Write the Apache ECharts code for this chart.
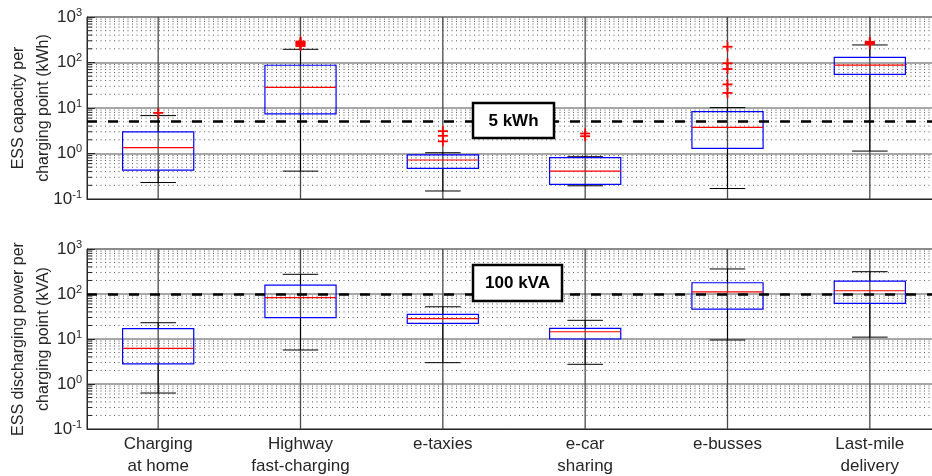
<!DOCTYPE html>
<html>
<head>
<meta charset="utf-8">
<script src="https://cdn.jsdelivr.net/npm/echarts@6/dist/echarts.min.js"></script>
<style>
  html, body { margin: 0; padding: 0; background: #fff; }
  #chart { width: 932px; height: 476px; }
</style>
</head>
<body>
<div id="chart"></div>
<script>
const categories = ['Charging\nat home', 'Highway\nfast-charging', 'e-taxies', 'e-car\nsharing', 'e-busses', 'Last-mile\ndelivery']

// ESS capacity (kWh): lower whisker, q1, median, q3, upper whisker
const capLow = [0.23, 0.41, 0.15, 0.195, 0.17, 1.13]
const capQ1 = [0.43, 7.4, 0.47, 0.21, 1.3, 55]
const capMed = [1.34, 28.5, 0.72, 0.41, 3.76, 88]
const capQ3 = [3.0, 87, 0.93, 0.81, 8.3, 130]
const capHigh = [6.8, 195, 1.04, 0.85, 10.2, 243]
const capOutliers = [
  [0, 7.8],
  [1, 230], [1, 245], [1, 260], [1, 275], [1, 290],
  [2, 3.1], [2, 2.45], [2, 1.85],
  [3, 2.75], [3, 2.4],
  [4, 222], [4, 96], [4, 72], [4, 33], [4, 21.5],
  [5, 255], [5, 265], [5, 275], [5, 285]
]

// ESS discharging power (kVA)
const powLow = [0.63, 5.7, 2.98, 2.74, 9.5, 11]
const powQ1 = [2.8, 30, 22.3, 10, 46, 62]
const powMed = [6.2, 83, 28.3, 14.5, 111, 118]
const powQ3 = [17, 158, 35.4, 17.3, 178, 194]
const powHigh = [23, 274, 52, 26, 360, 313]
const powOutliers = []

const capLimit = 5
const powLimit = 100

const decades = [0.1, 1, 10, 100]
const minorSteps = [2, 3, 4, 5, 6, 7, 8, 9]

const FONT = 'Liberation Sans, Arial, Helvetica, sans-serif'
const TXT = '#262626'

const minorVals = []
decades.forEach(d => minorSteps.forEach(m => minorVals.push([0, +(d * m).toPrecision(3)])))

function boxRows (lo, q1, md, q3, hi) {
  return categories.map((c, i) => [i, lo[i], q1[i], md[i], q3[i], hi[i]])
}

function renderBox (params, api) {
  const x = api.value(0)
  const band = params.coordSys.width / categories.length
  const lo = api.coord([x, api.value(1)])
  const q1 = api.coord([x, api.value(2)])
  const md = api.coord([x, api.value(3)])
  const q3 = api.coord([x, api.value(4)])
  const hi = api.coord([x, api.value(5)])
  const cx = lo[0]
  const bw = band * 0.5
  const cw = band * 0.25
  const black = { stroke: '#000', lineWidth: 1 }
  return {
    type: 'group',
    children: [
      { type: 'line', shape: { x1: cx, y1: lo[1], x2: cx, y2: q1[1] }, style: black },
      { type: 'line', shape: { x1: cx, y1: q3[1], x2: cx, y2: hi[1] }, style: black },
      { type: 'line', shape: { x1: cx - cw / 2, y1: lo[1], x2: cx + cw / 2, y2: lo[1] }, style: black },
      { type: 'line', shape: { x1: cx - cw / 2, y1: hi[1], x2: cx + cw / 2, y2: hi[1] }, style: black },
      {
        type: 'rect',
        shape: { x: cx - bw / 2, y: q3[1], width: bw, height: q1[1] - q3[1] },
        style: { fill: 'none', stroke: '#0000ff', lineWidth: 1.2 }
      },
      { type: 'line', shape: { x1: cx - bw / 2, y1: md[1], x2: cx + bw / 2, y2: md[1] }, style: { stroke: '#ff0000', lineWidth: 1.2 } }
    ]
  }
}

function renderOutlier (params, api) {
  const p = api.coord([api.value(0), api.value(1)])
  const s = 5
  const st = { stroke: '#ff0000', lineWidth: 1.8 }
  return {
    type: 'group',
    children: [
      { type: 'line', shape: { x1: p[0] - s, y1: p[1], x2: p[0] + s, y2: p[1] }, style: st },
      { type: 'line', shape: { x1: p[0], y1: p[1] - s, x2: p[0], y2: p[1] + s }, style: st }
    ]
  }
}

// dotted minor grid line + small inward tick on the left edge
function renderMinor (params, api) {
  const cs = params.coordSys
  const y = api.coord([0, api.value(1)])[1]
  return {
    type: 'group',
    children: [
      { type: 'line', shape: { x1: cs.x, y1: y, x2: cs.x + cs.width, y2: y }, style: { stroke: '#555', lineWidth: 1, lineDash: [1, 3.5] } },
      { type: 'line', shape: { x1: cs.x, y1: y, x2: cs.x + 5, y2: y }, style: { stroke: TXT, lineWidth: 1 } }
    ]
  }
}

function renderVGrid (params, api) {
  const cs = params.coordSys
  const x = api.coord([api.value(0), 1])[0]
  return {
    type: 'line',
    shape: { x1: x, y1: cs.y, x2: x, y2: cs.y + cs.height },
    style: { stroke: '#4a4a4a', lineWidth: 1.3 }
  }
}

function yAxisOpt (gridIndex, name) {
  return {
    type: 'log',
    logBase: 10,
    gridIndex: gridIndex,
    min: 0.1,
    max: 1000,
    name: name,
    nameLocation: 'middle',
    nameRotate: 90,
    nameGap: 31,
    nameMoveOverlap: false,
    nameTextStyle: { fontSize: 16, color: TXT, fontFamily: FONT, lineHeight: 25 },
    axisLine: { show: true, lineStyle: { color: TXT } },
    axisTick: { show: true, inside: true, length: 8, lineStyle: { color: TXT } },
    splitLine: { show: true, lineStyle: { color: '#8a8a8a', width: 1.5 } },
    axisLabel: {
      margin: 5,
      formatter: v => '{b|10}{s|' + Math.round(Math.log10(v)) + '}',
      rich: {
        b: { fontSize: 17, color: TXT, fontFamily: FONT },
        s: { fontSize: 11, color: TXT, fontFamily: FONT, padding: [0, 0, 9, 0] }
      }
    }
  }
}

function xAxisOpt (gridIndex, showLabels) {
  return {
    type: 'category',
    gridIndex: gridIndex,
    data: categories,
    axisLine: { show: true, lineStyle: { color: TXT } },
    axisTick: { show: false },
    splitLine: { show: false },
    axisLabel: { show: showLabels, fontSize: 17, color: TXT, fontFamily: FONT, lineHeight: 22, margin: 4, interval: 0 }
  }
}

function limitLine (value) {
  return {
    symbol: 'none',
    silent: true,
    label: { show: false },
    lineStyle: { color: '#000', width: 2.5, type: [10, 11] },
    data: [{ yAxis: value }]
  }
}

function panelSeries (idx, rows, outliers, limit) {
  return [
    { type: 'custom', xAxisIndex: idx, yAxisIndex: idx, data: minorVals, renderItem: renderMinor, encode: { x: 0, y: 1 }, z: 1, silent: true },
    { type: 'custom', xAxisIndex: idx, yAxisIndex: idx, data: categories.map((c, i) => [i, 1]), renderItem: renderVGrid, encode: { x: 0, y: 1 }, z: 1, silent: true },
    { type: 'custom', xAxisIndex: idx, yAxisIndex: idx, data: rows, renderItem: renderBox, encode: { x: 0, y: [1, 2, 3, 4, 5] }, z: 3, silent: true },
    {
      type: 'custom', xAxisIndex: idx, yAxisIndex: idx, data: outliers, renderItem: renderOutlier, encode: { x: 0, y: 1 }, z: 4, silent: true,
      markLine: limitLine(limit)
    }
  ]
}

const chart = echarts.init(document.getElementById('chart'))
chart.setOption({
  animation: false,
  backgroundColor: '#fff',
  grid: [
    { left: 87, top: 17, width: 854, height: 182, containLabel: false, outerBoundsMode: 'none', show: true, borderColor: TXT, borderWidth: 1, backgroundColor: '#fff' },
    { left: 87, top: 249, width: 854, height: 180, containLabel: false, outerBoundsMode: 'none', show: true, borderColor: TXT, borderWidth: 1, backgroundColor: '#fff' }
  ],
  xAxis: [xAxisOpt(0, false), xAxisOpt(1, true)],
  yAxis: [
    yAxisOpt(0, 'ESS capacity per\ncharging point (kWh)'),
    yAxisOpt(1, 'ESS discharging power per\ncharging point (kVA)')
  ],
  series: [
    ...panelSeries(0, boxRows(capLow, capQ1, capMed, capQ3, capHigh), capOutliers, capLimit),
    ...panelSeries(1, boxRows(powLow, powQ1, powMed, powQ3, powHigh), powOutliers, powLimit)
  ],
  graphic: [
    { type: 'rect', z: 100, shape: { x: 473, y: 103, width: 81, height: 35 }, style: { fill: '#fff', stroke: '#000', lineWidth: 2.5 } },
    { type: 'text', z: 101, x: 513.5, y: 121, style: { text: '5 kWh', fontSize: 17, fontWeight: 'bold', fontFamily: FONT, fill: '#000', align: 'center', verticalAlign: 'middle' } },
    { type: 'rect', z: 100, shape: { x: 473, y: 265, width: 89, height: 36 }, style: { fill: '#fff', stroke: '#000', lineWidth: 2.5 } },
    { type: 'text', z: 101, x: 517.5, y: 283.5, style: { text: '100 kVA', fontSize: 17, fontWeight: 'bold', fontFamily: FONT, fill: '#000', align: 'center', verticalAlign: 'middle' } }
  ]
})
</script>
</body>
</html>
